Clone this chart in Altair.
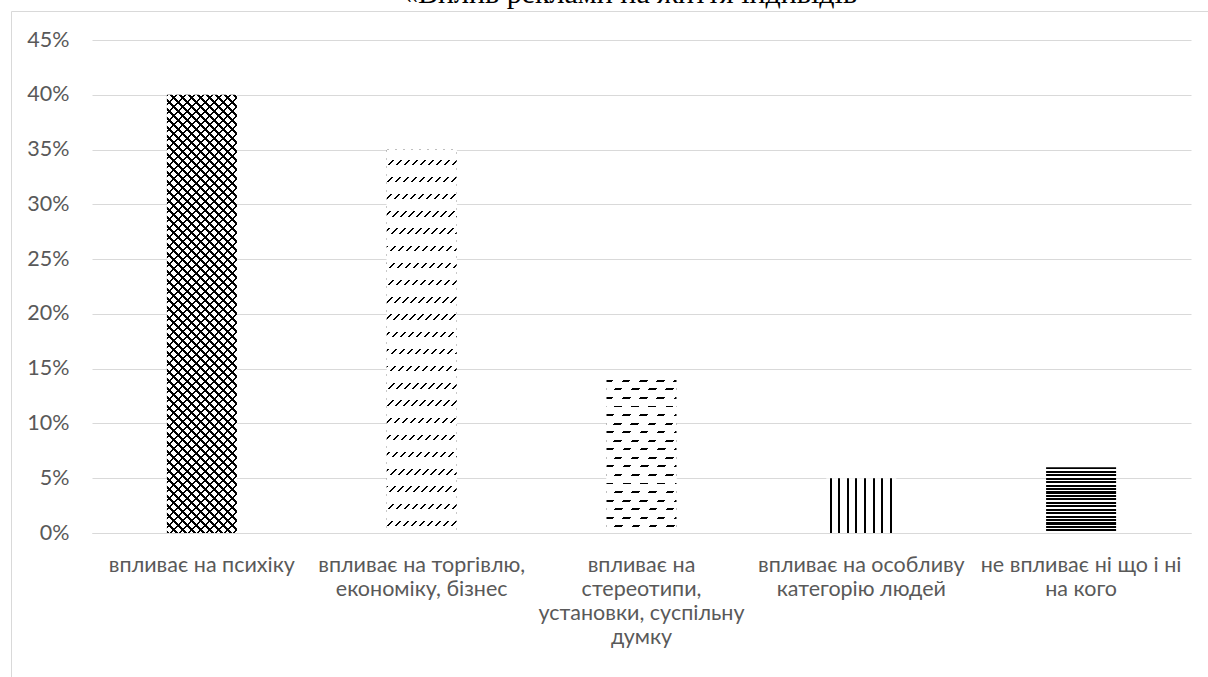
import math

import altair as alt
import pandas as pd

# ---- data -----------------------------------------------------------------
categories = [
    "впливає на психіку",
    "впливає на торгівлю,|економіку, бізнес",
    "впливає на|стереотипи,|установки, суспільну|думку",
    "впливає на особливу|категорію людей",
    "не впливає ні що і ні|на кого",
]
shares = [0.40, 0.35, 0.14, 0.05, 0.06]
y_ticks = [0.0, 0.05, 0.10, 0.15, 0.20, 0.25, 0.30, 0.35, 0.40, 0.45]
title_text = "«Вплив реклами на життя індивідів"

# ---- layout ---------------------------------------------------------------
PLOT_W, PLOT_H = 1099, 493
PAD = {"left": 92, "top": 40, "right": 17, "bottom": 144}
Y_MAX = 0.45
STEP = PLOT_W / len(categories)
BAR_W = 70
PAD_INNER = 1 - BAR_W / STEP

GRID = "#d9d9d9"
TEXT = "#595959"
INK = "#000000"
PAPER = "#ffffff"
CLEAR = "rgba(255,255,255,0)"
LABEL_FONT = "Lato"
LABEL_SIZE = 21.5

df = pd.DataFrame({"cat": categories, "share": shares})


# ---- hatch fills built from hard-edged linear gradients --------------------
def band_stops(total, period, on, ink, ground, phase=0.0):
    """Repeating bands of `ink` (width `on`) on `ground`, measured in pixels."""
    pts = [(0.0, ground)]
    k = -math.ceil((phase + on) / period) - 1
    while True:
        s = phase + k * period
        e = s + on
        k += 1
        if e <= 0:
            continue
        if s >= total:
            break
        s_c, e_c = max(s, 0.0), min(e, total)
        pts += [(s_c, ground), (s_c, ink), (e_c, ink), (e_c, ground)]
    pts.append((total, ground))
    return [{"offset": round(o / total, 6), "color": c} for o, c in pts]


def along_y(h, **kw):
    return {"gradient": "linear", "x1": 0, "y1": 0, "x2": 0, "y2": 1,
            "stops": band_stops(h, **kw)}


def along_x(w, **kw):
    return {"gradient": "linear", "x1": 0, "y1": 0, "x2": 1, "y2": 0,
            "stops": band_stops(w, **kw)}


def diagonal(w, h, p=1.0, q=1.0, rising=True, **kw):
    """Bands along u = p*x + q*y ('/' lines) or u = p*x + q*(h - y) ('\\' lines)."""
    total = p * w + q * h
    c = total / (p * p * w * w + q * q * h * h)
    ax, by = c * p * w, c * q * h
    if rising:
        x1, y1, x2, y2 = 0, 0, ax, by
    else:
        x1, y1, x2, y2 = 0, 1, ax, 1 - by
    return {"gradient": "linear", "x1": x1, "y1": y1, "x2": x2, "y2": y2,
            "stops": band_stops(total, **kw)}


heights = [v / Y_MAX * PLOT_H for v in shares]
W = BAR_W

fills = [
    # lattice of crossing diagonals
    [diagonal(W, heights[0], rising=True, period=9, on=2.2, ink=INK, ground=PAPER),
     diagonal(W, heights[0], rising=False, period=9, on=2.2, ink=INK, ground=CLEAR)],
    # rows of short slanted dashes
    [diagonal(W, heights[1], rising=True, period=8, on=1.9, ink=INK, ground=PAPER),
     along_y(heights[1], period=17.2, on=5.5, ink=CLEAR, ground=PAPER, phase=10 - 17.2)],
    # staggered horizontal dashes
    [along_y(heights[2], period=8.55, on=1.9, ink=INK, ground=PAPER, phase=0.3),
     diagonal(W, heights[2], rising=True, period=17.2, on=7.6, ink=CLEAR, ground=PAPER)],
    # vertical lines
    [along_x(W, period=8.6, on=2.0, ink=INK, ground=PAPER, phase=3.4)],
    # dense horizontal lines
    [along_y(heights[4], period=3.45, on=2.1, ink=INK, ground=PAPER, phase=0.0)],
]

# ---- encodings --------------------------------------------------------------
x_enc = alt.X(
    "cat:N",
    sort=categories,
    title=None,
    scale=alt.Scale(paddingInner=PAD_INNER, paddingOuter=PAD_INNER / 2),
    axis=alt.Axis(
        labelExpr="split(datum.value, '|')",
        labelAngle=0,
        labelFont=LABEL_FONT,
        labelFontSize=LABEL_SIZE,
        labelColor=TEXT,
        labelLineHeight=24.3,
        labelBaseline="top",
        labelPadding=21,
        labelLimit=0,
        ticks=False,
        tickSize=0,
        domainColor=GRID,
        domainWidth=1,
        grid=False,
    ),
)
y_enc = alt.Y(
    "share:Q",
    title=None,
    scale=alt.Scale(domain=[0, Y_MAX], nice=False),
    axis=alt.Axis(
        values=y_ticks,
        format=".0%",
        labelFont=LABEL_FONT,
        labelFontSize=LABEL_SIZE,
        labelColor=TEXT,
        labelPadding=23,
        ticks=False,
        tickSize=0,
        domain=False,
        grid=True,
        gridColor=GRID,
        gridWidth=1,
    ),
)

layers = []

# outer frame of the chart
frame = alt.Chart(alt.Data(values=[{}])).mark_rect(
    fillOpacity=0, stroke=GRID, strokeWidth=1
).encode(
    x=alt.value(11.5 - PAD["left"]),
    y=alt.value(11.5 - PAD["top"]),
    x2=alt.value(PLOT_W + 200),
    y2=alt.value(PLOT_H + 300),
)
layers.append(frame)

for cat, layer_fills in zip(categories, fills):
    for f in layer_fills:
        layers.append(
            alt.Chart(df)
            .transform_filter(alt.datum.cat == cat)
            .mark_bar(fill=f, opacity=1)
            .encode(x=x_enc, y=y_enc)
        )

title = alt.Chart(alt.Data(values=[{}])).mark_text(
    text=title_text,
    font="Liberation Serif",
    fontSize=30,
    color="#000000",
    align="center",
    baseline="alphabetic",
).encode(
    x=alt.value(630 - PAD["left"]),
    y=alt.value(3 - PAD["top"]),
)
layers.append(title)

chart = (
    alt.layer(*layers)
    .properties(
        width=PLOT_W,
        height=PLOT_H,
        padding=PAD,
        autosize=alt.AutoSizeParams(type="none"),
        background="white",
    )
    .configure_view(stroke=None)
)

chart.save("out.html", embed_options={"renderer": "svg", "actions": False})
